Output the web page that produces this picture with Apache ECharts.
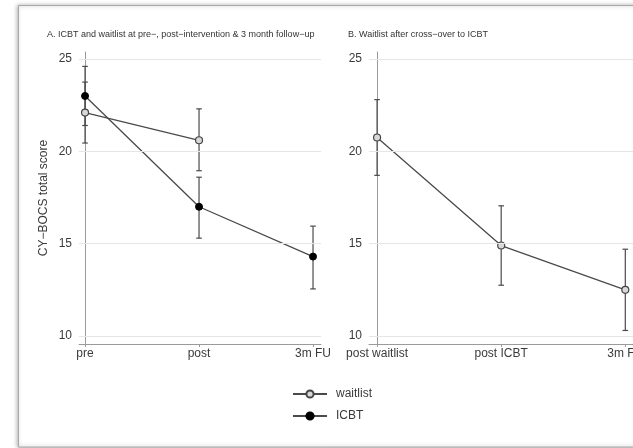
<!DOCTYPE html>
<html>
<head>
<meta charset="utf-8">
<script src="https://cdn.jsdelivr.net/npm/echarts@6/dist/echarts.min.js"></script>
<style>
html,body{margin:0;padding:0;background:#fff;}
#chart{width:633px;height:448px;}
</style>
</head>
<body>
<div id="chart"></div>
<script>
// ---- data ----
var timepointsA = ['pre', 'post', '3m FU'];
var timepointsB = ['post waitlist', 'post ICBT', '3m FU'];
var yTicks = [10, 15, 20, 25];

var waitlistA_mean = [22.1, 20.6];
var waitlistA_lo = [20.45, 18.95];
var waitlistA_hi = [23.75, 22.3];

var icbtA_mean = [23.0, 17.0, 14.3];
var icbtA_lo = [21.4, 15.3, 12.55];
var icbtA_hi = [24.6, 18.6, 15.95];

var waitlistB_mean = [20.75, 14.9, 12.5];
var waitlistB_lo = [18.7, 12.75, 10.3];
var waitlistB_hi = [22.8, 17.05, 14.7];

var titleA = 'A. ICBT and waitlist at pre\u2212, post\u2212intervention & 3 month follow\u2212up';
var titleB = 'B. Waitlist after cross\u2212over to ICBT';
var yTitle = 'CY\u2212BOCS total score';

// ---- helpers ----
function pts(arr) { return arr.map(function (v, i) { return [i, v]; }); }
function bars(lo, hi) { return lo.map(function (v, i) { return [i, v, hi[i]]; }); }

var FONT = 'Liberation Sans, Arial, Helvetica, sans-serif';
var LINE = '#4a4a4a';
var AXIS = '#9a9a9a';

function errRender(params, api) {
  var x = api.value(0), lo = api.value(1), hi = api.value(2);
  var a = api.coord([x, lo]), b = api.coord([x, hi]);
  var w = 2.8;
  var st = { stroke: LINE, lineWidth: 1.2 };
  return {
    type: 'group',
    children: [
      { type: 'line', shape: { x1: a[0], y1: a[1], x2: b[0], y2: b[1] }, style: st },
      { type: 'line', shape: { x1: a[0] - w, y1: a[1], x2: a[0] + w, y2: a[1] }, style: st },
      { type: 'line', shape: { x1: b[0] - w, y1: b[1], x2: b[0] + w, y2: b[1] }, style: st }
    ]
  };
}

function gridLines(idx) {
  return {
    name: 'grid' + idx, type: 'line', xAxisIndex: idx, yAxisIndex: idx, data: [], z: 0, silent: true,
    markLine: {
      silent: true, symbol: 'none', animation: false,
      label: { show: false },
      lineStyle: { color: '#e6e6e6', width: 1, type: 'solid' },
      data: yTicks.map(function (t) { return { yAxis: t }; })
    }
  };
}

function xAxisDef(idx, labels, minV) {
  return {
    type: 'value', gridIndex: idx, min: minV, max: 2.07,
    axisLine: { show: true, lineStyle: { color: AXIS, width: 1 } },
    axisTick: { show: true, length: 3, lineStyle: { color: AXIS }, customValues: [0, 1, 2] },
    axisLabel: {
      customValues: [0, 1, 2], margin: 4, fontSize: 12, color: '#3a3a3a', fontFamily: FONT,
      hideOverlap: false,
      formatter: function (v) { return labels[Math.round(v)]; }
    },
    splitLine: { show: false }
  };
}

function yAxisDef(idx, withName) {
  var o = {
    type: 'value', gridIndex: idx, min: 9.567, max: 25.38,
    axisLine: { show: true, lineStyle: { color: AXIS, width: 1 } },
    axisTick: { show: true, length: 4, lineStyle: { color: AXIS }, customValues: yTicks },
    axisLabel: { customValues: yTicks, margin: 7, fontSize: 12, color: '#3a3a3a', fontFamily: FONT },
    splitLine: { show: false }
  };
  if (withName) {
    o.name = yTitle;
    o.nameLocation = 'middle';
    o.nameGap = 29;
    o.nameTextStyle = { fontSize: 12, color: '#3a3a3a', fontFamily: FONT };
  }
  return o;
}

var chart = echarts.init(document.getElementById('chart'), null, { renderer: 'canvas' });
chart.setOption({
  animation: false,
  backgroundColor: '#ffffff',
  graphic: [{
    type: 'rect', z: -100, silent: true,
    shape: { x: 18.5, y: 5.5, width: 700, height: 441.5 },
    style: { fill: '#ffffff', stroke: '#a8a8a8', lineWidth: 1, shadowBlur: 4, shadowColor: 'rgba(0,0,0,0.35)', shadowOffsetX: -1 }
  }],
  title: [
    { text: titleA, left: 47, top: 30, padding: 0, textStyle: { fontSize: 9, fontWeight: 'normal', color: '#333', fontFamily: FONT } },
    { text: titleB, left: 348, top: 30, padding: 0, textStyle: { fontSize: 9, fontWeight: 'normal', color: '#333', fontFamily: FONT } }
  ],
  grid: [
    { left: 79, top: 52, width: 242, height: 292, outerBoundsMode: 'none', containLabel: false },
    { left: 369, top: 52, width: 265, height: 292, outerBoundsMode: 'none', containLabel: false }
  ],
  xAxis: [xAxisDef(0, timepointsA, -0.053), xAxisDef(1, timepointsB, -0.065)],
  yAxis: [yAxisDef(0, true), yAxisDef(1, false)],
  legend: {
    data: ['waitlist', 'ICBT'], orient: 'vertical', left: 292, top: 388, padding: 0,
    itemWidth: 34, itemHeight: 9, itemGap: 10,
    textStyle: { fontSize: 12, color: '#3a3a3a', fontFamily: FONT, padding: [0, 0, 0, 4] }
  },
  series: [
    gridLines(0), gridLines(1),
    { name: 'errWA', type: 'custom', xAxisIndex: 0, yAxisIndex: 0, renderItem: errRender, data: bars(waitlistA_lo, waitlistA_hi), z: 3 },
    { name: 'errIA', type: 'custom', xAxisIndex: 0, yAxisIndex: 0, renderItem: errRender, data: bars(icbtA_lo, icbtA_hi), z: 3 },
    { name: 'errWB', type: 'custom', xAxisIndex: 1, yAxisIndex: 1, renderItem: errRender, data: bars(waitlistB_lo, waitlistB_hi), z: 3 },
    {
      name: 'waitlist', type: 'line', xAxisIndex: 0, yAxisIndex: 0, data: pts(waitlistA_mean), z: 4,
      symbol: 'circle', symbolSize: 7, lineStyle: { color: LINE, width: 1.3 },
      itemStyle: { color: '#d8d8d8', borderColor: '#444', borderWidth: 1.2 }
    },
    {
      name: 'ICBT', type: 'line', xAxisIndex: 0, yAxisIndex: 0, data: pts(icbtA_mean), z: 4,
      symbol: 'circle', symbolSize: 7, lineStyle: { color: LINE, width: 1.3 },
      itemStyle: { color: '#000', borderColor: '#000', borderWidth: 1 }
    },
    {
      name: 'waitlist', type: 'line', xAxisIndex: 1, yAxisIndex: 1, data: pts(waitlistB_mean), z: 4,
      symbol: 'circle', symbolSize: 7, lineStyle: { color: LINE, width: 1.3 },
      itemStyle: { color: '#d8d8d8', borderColor: '#444', borderWidth: 1.2 }
    }
  ]
});
</script>
</body>
</html>
